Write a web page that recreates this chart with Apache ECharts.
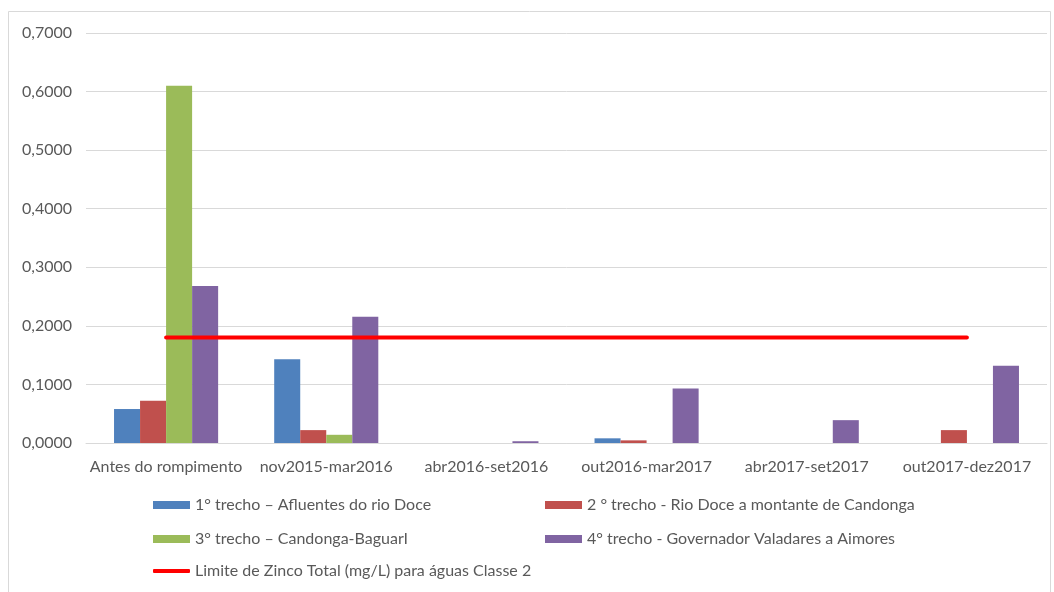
<!DOCTYPE html>
<html>
<head>
<meta charset="utf-8">
<script src="https://cdn.jsdelivr.net/npm/echarts@6/dist/echarts.min.js"></script>
<style>
  html, body { margin: 0; padding: 0; background: #fff; }
  #chart { width: 1054px; height: 592px; }
</style>
</head>
<body>
<div id="chart"></div>
<script>
// categories (periods)
var periods = ["Antes do rompimento", "nov2015-mar2016", "abr2016-set2016", "out2016-mar2017", "abr2017-set2017", "out2017-dez2017"];

// series names
var trecho1Name = "1° trecho – Afluentes do rio Doce";
var trecho2Name = "2 ° trecho - Rio Doce a montante de Candonga";
var trecho3Name = "3° trecho – Candonga-BaguarI";
var trecho4Name = "4° trecho - Governador Valadares a Aimores";
var limiteName = "Limite de Zinco Total (mg/L) para águas Classe 2";

// values (mg/L)
var trecho1 = [0.058, 0.143, 0, 0.008, 0, 0];
var trecho2 = [0.072, 0.022, 0, 0.0045, 0, 0.022];
var trecho3 = [0.610, 0.014, 0, 0, 0, 0];
var trecho4 = [0.268, 0.2155, 0.003, 0.093, 0.039, 0.132];
var limite = [0.18, 0.18, 0.18, 0.18, 0.18, 0.18];

var textColor = "#595959";
var fontFam = "Lato, 'Open Sans', sans-serif";

function legendAt(name, left, top, icon, h) {
  return {
    data: [name],
    left: left,
    top: top,
    padding: 0,
    icon: icon,
    itemWidth: 37,
    itemHeight: h,
    textStyle: { color: textColor, fontSize: 16, fontFamily: fontFam },
  };
}

var chart = echarts.init(document.getElementById("chart"));
var option = {
  animation: false,
  backgroundColor: "#fff",
  graphic: [
    {
      type: "rect",
      shape: { x: 8.5, y: 11.5, width: 1042, height: 600 },
      style: { fill: "none", stroke: "#d9d9d9", lineWidth: 1 },
    },
  ],
  legend: [
    legendAt(trecho1Name, 153, 497, "rect", 8),
    legendAt(trecho2Name, 545, 497, "rect", 8),
    legendAt(trecho3Name, 153, 531, "rect", 8),
    legendAt(trecho4Name, 545, 531, "rect", 8),
    legendAt(limiteName, 153, 563, "roundRect", 4),
  ],
  grid: { left: 86, right: 7, top: 33, bottom: 149 },
  xAxis: {
    type: "category",
    data: periods,
    axisLine: { lineStyle: { color: "#d9d9d9" } },
    axisTick: { show: false },
    axisLabel: { color: textColor, fontSize: 16, fontFamily: fontFam, margin: 16, interval: 0 },
  },
  yAxis: {
    type: "value",
    min: 0,
    max: 0.7,
    interval: 0.1,
    axisLine: { show: false },
    axisTick: { show: false },
    splitLine: { lineStyle: { color: "#d9d9d9" } },
    axisLabel: {
      color: textColor,
      fontSize: 16,
      fontFamily: fontFam,
      margin: 14,
      formatter: function (v) { return v.toFixed(4).replace(".", ","); },
    },
  },
  series: [
    { name: trecho1Name, type: "bar", data: trecho1, barGap: "0%", barCategoryGap: "35%", itemStyle: { color: "#4f81bd" } },
    { name: trecho2Name, type: "bar", data: trecho2, itemStyle: { color: "#c0504d" } },
    { name: trecho3Name, type: "bar", data: trecho3, itemStyle: { color: "#9bbb59" } },
    { name: trecho4Name, type: "bar", data: trecho4, itemStyle: { color: "#8064a2" } },
    {
      name: limiteName,
      type: "line",
      data: limite,
      symbol: "none",
      lineStyle: { color: "#ff0000", width: 4, cap: "round" },
      itemStyle: { color: "#ff0000" },
      z: 5,
    },
  ],
};
chart.setOption(option);
</script>
</body>
</html>
